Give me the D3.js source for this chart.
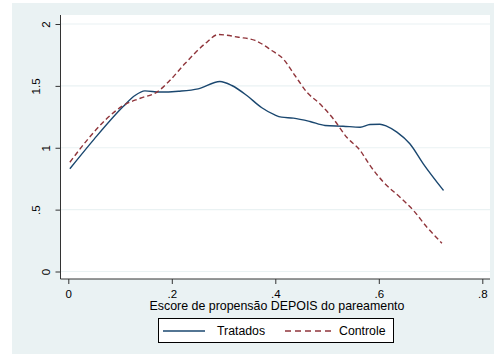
<!DOCTYPE html>
<html>
<head>
<meta charset="utf-8">
<script src="https://cdn.jsdelivr.net/npm/d3@7"></script>
<style>
  html, body { margin: 0; padding: 0; background: #fff; }
  svg { display: block; font-family: "Liberation Sans", Arial, sans-serif; }
</style>
</head>
<body>
<svg id="chart" width="494" height="358"></svg>
<script>
// Kernel density estimates of the propensity score after matching
const tratadosX = [0.003, 0.05, 0.106, 0.128, 0.148, 0.177, 0.213, 0.251, 0.293, 0.316, 0.345, 0.374, 0.399, 0.412, 0.435, 0.467, 0.496, 0.531, 0.564, 0.583, 0.602, 0.615, 0.635, 0.66, 0.686, 0.725];
const tratadosY = [0.83, 1.07, 1.333, 1.42, 1.46, 1.45, 1.457, 1.476, 1.535, 1.503, 1.422, 1.323, 1.265, 1.247, 1.239, 1.212, 1.18, 1.174, 1.166, 1.188, 1.19, 1.175, 1.126, 1.032, 0.87, 0.655];

const controleX = [0.003, 0.036, 0.074, 0.106, 0.139, 0.171, 0.196, 0.225, 0.264, 0.29, 0.329, 0.361, 0.393, 0.415, 0.438, 0.461, 0.486, 0.512, 0.538, 0.564, 0.583, 0.609, 0.641, 0.667, 0.693, 0.722];
const controleY = [0.883, 1.06, 1.234, 1.341, 1.40, 1.449, 1.543, 1.678, 1.84, 1.915, 1.893, 1.867, 1.786, 1.719, 1.584, 1.449, 1.355, 1.234, 1.085, 0.978, 0.857, 0.722, 0.60, 0.493, 0.358, 0.229];

const xTicks = [0, 0.2, 0.4, 0.6, 0.8];
const xTickLabels = ["0", ".2", ".4", ".6", ".8"];
const yTicks = [0, 0.5, 1, 1.5, 2];
const yTickLabels = ["0", ".5", "1", "1.5", "2"];

const seriesNames = ["Tratados", "Controle"];
const xTitle = "Escore de propensão DEPOIS do pareamento";

const navy = "#1a476f", maroon = "#90353b";
const svg = d3.select("#chart");

// Outer graph region
svg.append("rect").attr("x", 12).attr("y", 3).attr("width", 482).attr("height", 351).attr("fill", "#eaf2f3");

const plot = { left: 60.5, right: 490, top: 15, bottom: 279 };
svg.append("rect")
  .attr("x", plot.left).attr("y", plot.top)
  .attr("width", plot.right - plot.left).attr("height", plot.bottom - plot.top)
  .attr("fill", "#fff");

const x = d3.scaleLinear().domain([0, 0.8]).range([68.3, 482.3]);
const y = d3.scaleLinear().domain([0, 2]).range([271.5, 24]);

// Horizontal gridlines
svg.append("g").selectAll("line").data(yTicks).join("line")
  .attr("x1", plot.left).attr("x2", plot.right)
  .attr("y1", d => y(d)).attr("y2", d => y(d))
  .attr("stroke", "#eaf2f3").attr("stroke-width", 1.2);

// Y axis
const yAxis = d3.axisLeft(y).tickValues(yTicks).tickSize(5).tickFormat((d, i) => yTickLabels[i]);
const gy = svg.append("g").attr("transform", `translate(${plot.left},0)`).call(yAxis);
gy.select(".domain").attr("d", `M-0,${plot.top}V${plot.bottom}`).attr("stroke", "#333");
gy.selectAll(".tick line").attr("stroke", "#333");
gy.selectAll(".tick text")
  .attr("font-size", 11.5).attr("fill", "#000")
  .attr("text-anchor", "middle")
  .attr("transform", (d, i) => `translate(${yTickLabels[i].includes(".") ? -20.5 : -10.5},0) rotate(-90)`)
  .attr("x", 0).attr("y", 0).attr("dy", 0);

// X axis
const xAxis = d3.axisBottom(x).tickValues(xTicks).tickSize(5).tickFormat((d, i) => xTickLabels[i]);
const gx = svg.append("g").attr("transform", `translate(0,${plot.bottom})`).call(xAxis);
gx.select(".domain").attr("d", `M${plot.left},0H${plot.right}`).attr("stroke", "#333");
gx.selectAll(".tick line").attr("stroke", "#333");
gx.selectAll(".tick text").attr("font-size", 11.5).attr("fill", "#000").attr("y", 19).attr("dy", 0);

svg.append("text")
  .attr("x", 277).attr("y", 309.5)
  .attr("text-anchor", "middle").attr("font-size", 12.4).attr("fill", "#000")
  .text(xTitle);

// Density curves
const line = d3.line().x(d => x(d[0])).y(d => y(d[1])).curve(d3.curveMonotoneX);
const tratados = d3.zip(tratadosX, tratadosY);
const controle = d3.zip(controleX, controleY);

svg.append("path").datum(tratados).attr("d", line)
  .attr("fill", "none").attr("stroke", navy).attr("stroke-width", 1.4);
svg.append("path").datum(controle).attr("d", line)
  .attr("fill", "none").attr("stroke", maroon).attr("stroke-width", 1.4).attr("stroke-dasharray", "5,3");

// Legend
const leg = svg.append("g");
leg.append("rect").attr("x", 158.5).attr("y", 318.5).attr("width", 235).attr("height", 24)
  .attr("fill", "#fff").attr("stroke", "#000").attr("stroke-width", 1);
leg.append("line").attr("x1", 163).attr("x2", 205).attr("y1", 331).attr("y2", 331)
  .attr("stroke", navy).attr("stroke-width", 1.4);
leg.append("text").attr("x", 217).attr("y", 335).attr("font-size", 12.3).attr("fill", "#000").text(seriesNames[0]);
leg.append("line").attr("x1", 285).attr("x2", 332).attr("y1", 331).attr("y2", 331)
  .attr("stroke", maroon).attr("stroke-width", 1.4).attr("stroke-dasharray", "6,4");
leg.append("text").attr("x", 339).attr("y", 335).attr("font-size", 12.3).attr("fill", "#000").text(seriesNames[1]);
</script>
</body>
</html>
